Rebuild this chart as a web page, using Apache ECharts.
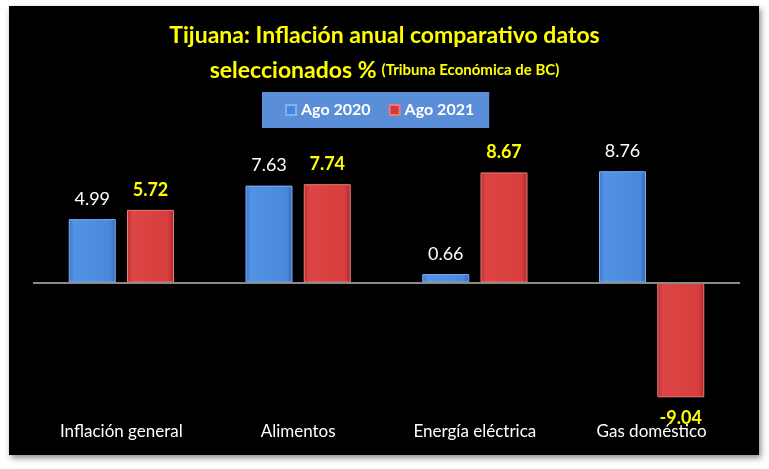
<!DOCTYPE html>
<html><head><meta charset="utf-8">
<script src="https://cdn.jsdelivr.net/npm/echarts@6/dist/echarts.min.js"></script>
<style>html,body{margin:0;padding:0;background:#fff}#c{width:769px;height:469px}</style>
</head><body><div id="c"></div>
<script>
const categories = ['Inflación general', 'Alimentos', 'Energía eléctrica', 'Gas doméstico'];
const ago2020 = [4.99, 7.63, 0.66, 8.76];
const ago2021 = [5.72, 7.74, 8.67, -9.04];
const seriesNames = ['Ago 2020', 'Ago 2021'];

const chart = echarts.init(document.getElementById('c'));
const FONT = 'Lato, "Open Sans", sans-serif';
const blueGrad = new echarts.graphic.LinearGradient(0,0,1,0,[
  {offset:0,color:'#3f78c8'},{offset:0.12,color:'#5393e6'},{offset:0.88,color:'#4a88dc'},{offset:1,color:'#3468b4'}]);
const redGrad = new echarts.graphic.LinearGradient(0,0,1,0,[
  {offset:0,color:'#b83030'},{offset:0.12,color:'#de4646'},{offset:0.88,color:'#d63e3e'},{offset:1,color:'#a82828'}]);
chart.setOption({
  backgroundColor: '#fff',
  animation: false,
  graphic: [{
    type: 'rect', z: -100,
    shape: {x: 9, y: 6, width: 750, height: 449},
    style: {fill: '#000', shadowBlur: 6, shadowColor: 'rgba(0,0,0,0.45)', shadowOffsetX: 2, shadowOffsetY: 3}
  }],
  title: {
    text: '{a|Tijuana: Inflación anual comparativo datos}\n{a|seleccionados %} {b|(Tribuna Económica de BC)}',
    left: 'center', top: 13,
    textStyle: {
      rich: {
        a: {fontFamily: FONT, fontWeight: 'bold', fontSize: 23, color: '#ffff00', lineHeight: 35},
        b: {fontFamily: FONT, fontWeight: 'bold', fontSize: 15, color: '#ffff00', lineHeight: 35}
      }
    }
  },
  legend: {
    left: 262, top: 92,
    backgroundColor: '#5a8ed8',
    padding: [10, 15, 10, 23],
    itemWidth: 10, itemHeight: 10, itemGap: 18,
    icon: 'rect',
    textStyle: {color: '#fff', fontFamily: FONT, fontSize: 16, fontWeight: 'bold'},
    data: [{name: seriesNames[0], itemStyle: {color: '#4a86d8'}}, {name: seriesNames[1], itemStyle: {color: '#d23c3c'}}]
  },
  grid: {left: 33, right: 29, top: 155.5, bottom: 59.5},
  xAxis: {
    type: 'category', data: categories,
    axisLine: {show: false, onZero: false}, axisTick: {show: false},
    axisLabel: {color: '#fff', fontFamily: FONT, fontSize: 17, margin: 14}
  },
  yAxis: {type: 'value', min: -10, max: 10, show: false, splitLine: {show: false}},
  series: [
    {
      name: seriesNames[0], type: 'bar', data: ago2020, barWidth: 47, barGap: '24%',
      itemStyle: {color: blueGrad, borderColor: '#7fb0f0', borderWidth: 1},
      label: {show: true, position: 'top', distance: 11, color: '#fff', fontFamily: FONT, fontSize: 18,
        formatter: p => p.value.toFixed(2)},
      markLine: {silent: true, symbol: 'none', label: {show: false},
        lineStyle: {color: '#8a8a8a', width: 2, type: 'solid'}, data: [{yAxis: 0}]}
    },
    {
      name: seriesNames[1], type: 'bar', barWidth: 47,
      data: ago2021.map(v => v < 0 ? {value: v, label: {position: 'bottom', distance: 12}} : v),
      itemStyle: {color: redGrad, borderColor: '#ee7a7a', borderWidth: 1},
      label: {show: true, position: 'top', distance: 11, color: '#ffff00', fontWeight: 'bold', fontFamily: FONT, fontSize: 18,
        formatter: p => p.value.toFixed(2)}
    }
  ]
});
</script></body></html>
